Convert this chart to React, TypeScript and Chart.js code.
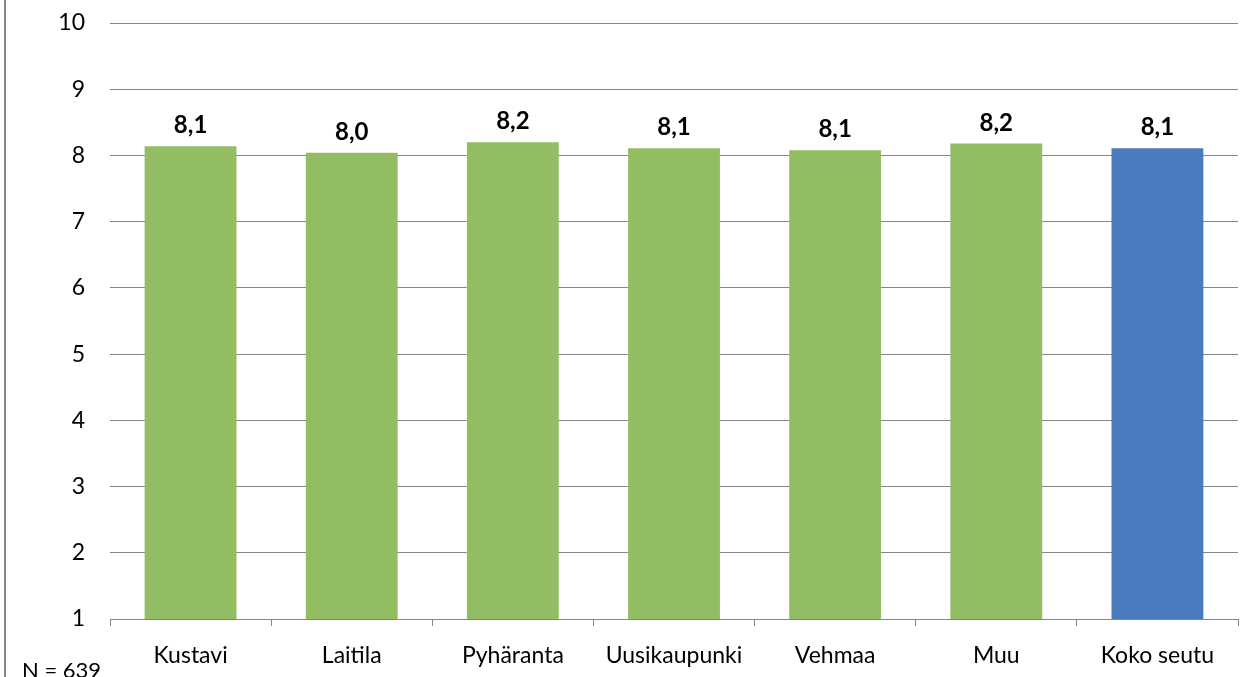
import React, { useEffect, useRef } from "react";
import { Chart, registerables } from "chart.js";

Chart.register(...registerables);

const categories = ["Kustavi", "Laitila", "Pyhäranta", "Uusikaupunki", "Vehmaa", "Muu", "Koko seutu"];
const values = [8.14, 8.04, 8.2, 8.11, 8.08, 8.18, 8.11];
const barColors = ["#92BD62", "#92BD62", "#92BD62", "#92BD62", "#92BD62", "#92BD62", "#4A7BBE"];
const yTicks = [1, 2, 3, 4, 5, 6, 7, 8, 9, 10];
const footnote = "N = 639";

const FONT = "Lato, 'Open Sans', sans-serif";

export default function App() {
  const ref = useRef<HTMLCanvasElement | null>(null);

  useEffect(() => {
    document.body.style.margin = "0";
    const canvas = ref.current;
    if (!canvas) return;

    const extras = {
      id: "extras",
      afterDatasetsDraw(chart: any) {
        const ctx = chart.ctx;
        const meta = chart.getDatasetMeta(0);
        ctx.save();
        ctx.fillStyle = "#000";
        ctx.font = `bold 24px ${FONT}`;
        ctx.textAlign = "center";
        ctx.textBaseline = "alphabetic";
        meta.data.forEach((bar: any, i: number) => {
          const txt = values[i].toFixed(1).replace(".", ",");
          ctx.fillText(txt, bar.x, bar.y - 13);
        });
        ctx.restore();
      },
      afterDraw(chart: any) {
        const ctx = chart.ctx;
        ctx.save();
        ctx.strokeStyle = "#868686";
        ctx.lineWidth = 2;
        ctx.beginPath();
        ctx.moveTo(5, 0);
        ctx.lineTo(5, 677);
        ctx.stroke();
        ctx.fillStyle = "#000";
        ctx.font = `22px ${FONT}`;
        ctx.textAlign = "left";
        ctx.textBaseline = "alphabetic";
        ctx.fillText(footnote, 22, 678);
        ctx.restore();
      },
    };

    const chart = new Chart(canvas, {
      type: "bar",
      data: {
        labels: categories,
        datasets: [
          {
            data: values,
            backgroundColor: barColors,
            borderWidth: 0,
            categoryPercentage: 1,
            barPercentage: 0.57,
          },
        ],
      },
      options: {
        responsive: false,
        animation: false,
        layout: { padding: { left: 0, right: 2, top: 23, bottom: 0 } },
        plugins: {
          legend: { display: false },
          tooltip: { enabled: false },
        },
        scales: {
          x: {
            offset: true,
            grid: {
              offset: true,
              drawOnChartArea: false,
              drawTicks: true,
              tickLength: 7,
              color: "#868686",
            },
            border: { display: true, color: "#868686", width: 1 },
            ticks: {
              color: "#000",
              font: { family: FONT, size: 23 },
              padding: 16,
              maxRotation: 0,
              autoSkip: false,
            },
            afterFit(scale: any) {
              scale.height = 58;
              scale.paddingLeft = 0;
              scale.paddingRight = 0;
            },
          },
          y: {
            min: 1,
            max: 10,
            afterBuildTicks(scale: any) {
              scale.ticks = yTicks.map((v) => ({ value: v }));
            },
            grid: {
              color: "#868686",
              drawTicks: false,
              lineWidth: 1,
            },
            border: { display: false },
            ticks: {
              color: "#000",
              font: { family: FONT, size: 23 },
              padding: 25,
            },
            afterFit(scale: any) {
              scale.width = 110;
              scale.paddingTop = 0;
              scale.paddingBottom = 0;
            },
          },
        },
      },
      plugins: [extras],
    });

    return () => chart.destroy();
  }, []);

  return (
    <div style={{ position: "absolute", left: 0, top: 0, width: 1240, height: 677 }}>
      <canvas ref={ref} width={1240} height={677} style={{ width: 1240, height: 677 }} />
    </div>
  );
}
